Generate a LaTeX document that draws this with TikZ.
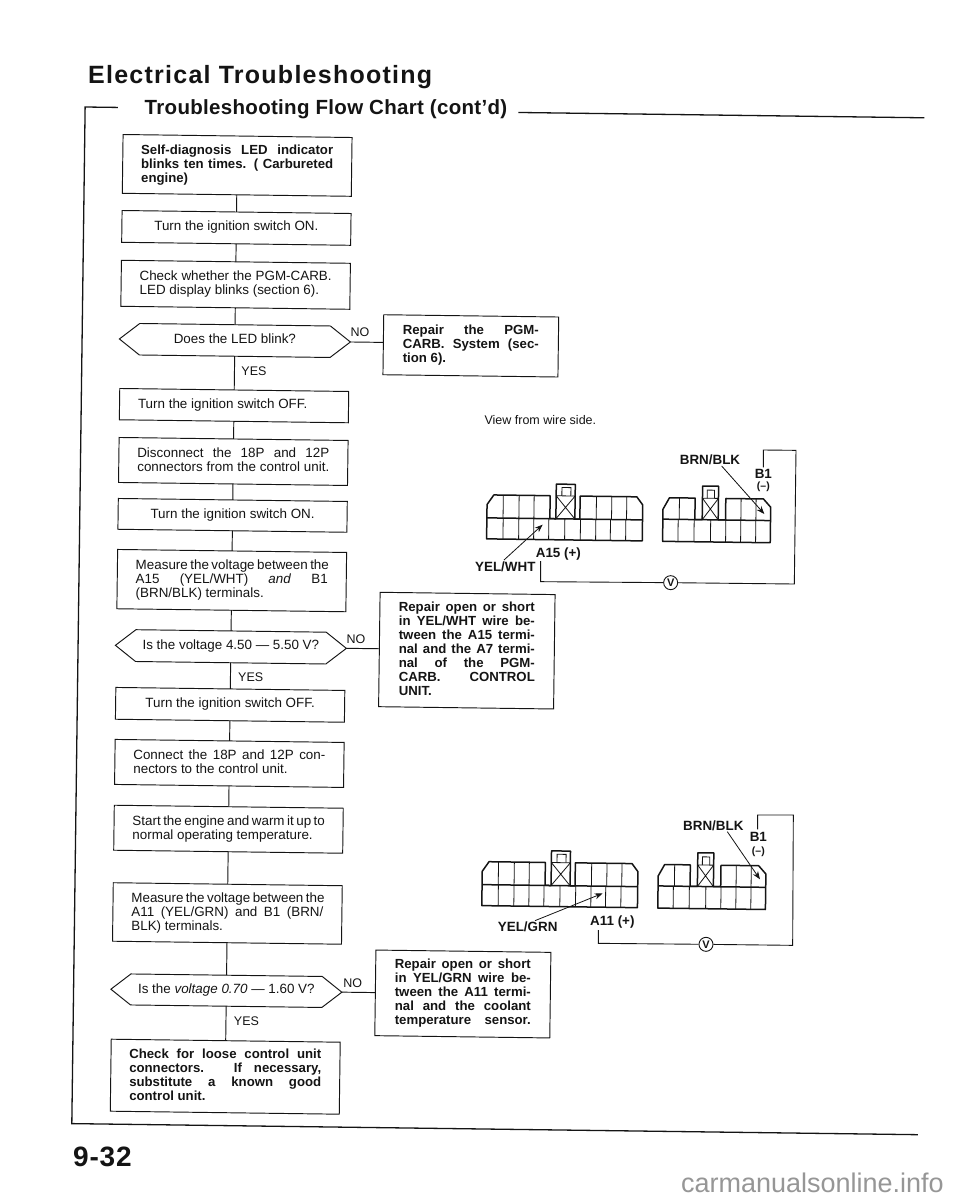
\documentclass[tikz,border=0pt]{standalone}
\usepackage{fontspec}
\setmainfont{Liberation Sans}
\usetikzlibrary{arrows.meta,shapes.symbols,calc}
\newlength{\jw}\setlength{\jw}{192pt}
\newlength{\rw}\setlength{\rw}{136pt}
\newcommand{\jl}[1]{\makebox[\jw][s]{#1}}
\newcommand{\lnl}[1]{\makebox[\jw][l]{#1}}
\newcommand{\jrep}[1]{\makebox[\rw][s]{#1}}
\newcommand{\lrep}[1]{\makebox[\rw][l]{#1}}
% sets the text level inside a node of the slightly tilted page
\newcommand{\ut}[1]{\rotatebox[origin=c]{0.75}{\begin{tabular}{@{}l@{}}#1\end{tabular}}}
\definecolor{ink}{gray}{0.08}
\newcommand{\connectorshapes}{%
  % left connector
  \draw[conn] (354,322) -- (354,219) -- (374,190) -- (543,190) -- (543,259) -- (561,259) -- (561,155) -- (618,155) -- (618,259) -- (633,259) -- (633,190) -- (803,190) -- (821,214) -- (821,322) -- cycle;
  \draw[conn] (354,259) -- (821,259);
  \foreach \u in {402.5,450,495,682,728,773} {\draw[thin2] (\u,190) -- (\u,259);}
  \foreach \u in {403,450,495,540,588,635,681,725,771} {\draw[thin2] (\u,259) -- (\u,322);}
  \draw[thin2] (578,190) -- (578,165) -- (605,165) -- (605,190);
  \draw[thin2] (561,190) -- (618,190) (561,190) -- (618,259) (618,190) -- (561,259);
  % right connector
  \draw[conn] (882,322.5) -- (882,226) -- (901,191.5) -- (978,191.5) -- (978,256) -- (1000,256) -- (1000,155) -- (1048,155) -- (1048,256) -- (1070,256) -- (1070,191.5) -- (1183,191.5) -- (1205,216) -- (1205,322.5) -- cycle;
  \draw[conn] (882,256) -- (1205,256);
  \foreach \u in {931,1116,1161} {\draw[thin2] (\u,191.5) -- (\u,256);}
  \foreach \u in {928,976,1025.5,1071,1116,1161} {\draw[thin2] (\u,256) -- (\u,322.5);}
  \draw[thin2] (1014,191.5) -- (1014,167) -- (1036,167) -- (1036,191.5);
  \draw[thin2] (1000,191.5) -- (1048,191.5) (1000,191.5) -- (1048,256) (1048,191.5) -- (1000,256);
}
\tikzset{
  boxn/.style={draw=ink,text=ink,line width=0.95pt,minimum width=229pt,inner sep=0pt,outer sep=0pt,align=left,font=\fontsize{13.4}{14}\selectfont},
  boldn/.style={boxn,font=\fontsize{13.2}{14}\selectfont\bfseries},
  repn/.style={boldn,minimum width=175pt},
  dec/.style={signal,signal to=west and east,signal pointer angle=76,draw=ink,text=ink,line width=0.95pt,minimum width=231pt,inner sep=0pt,outer sep=0pt,font=\fontsize{13.4}{14}\selectfont},
  flow/.style={draw=ink,line width=0.95pt},
  small/.style={text=ink,inner sep=0pt,rotate=0.75,font=\fontsize{12.5}{14}\selectfont},
  conn/.style={draw=ink,line width=1.5pt,line join=round},
  thin2/.style={draw=ink,line width=0.8pt},
  wire/.style={draw=ink,line width=0.9pt},
  lbl/.style={text=ink,inner sep=0pt,font=\fontsize{13.4}{14}\selectfont\bfseries},
  lbls/.style={lbl,font=\fontsize{10.5}{12}\selectfont\bfseries},
  meter/.style={circle,draw=ink,line width=0.9pt,text=ink,minimum size=14pt,inner sep=0pt,font=\fontsize{11}{11}\selectfont\bfseries},
  ptr/.style={draw=ink,line width=0.8pt,-{Stealth[length=8pt,width=6pt]}},
  frameline/.style={draw=ink,line width=1.3pt}
}
\begin{document}
\begin{tikzpicture}[x=1pt,y=-1pt]
\useasboundingbox (0,0) rectangle (960,1200);
\fill[white] (0,0) rectangle (960,1200);
% headings
\node[anchor=base west,inner sep=0,text=ink,font=\fontsize{25}{28}\selectfont\bfseries\addfontfeature{LetterSpace=5}] (title) at (88,83.5) {Electrical Troubleshooting};
\node[anchor=base west,inner sep=0,text=ink,font=\fontsize{20.5}{23}\selectfont\bfseries\addfontfeature{LetterSpace=1.5}] (sub) at (144.5,114) {Troubleshooting Flow Chart (cont'd)};
\node[anchor=base west,inner sep=0,text=ink,font=\fontsize{28}{30}\selectfont\bfseries\addfontfeature{LetterSpace=3}] (page) at (73,1166) {9-32};
\begin{scope}[rotate around={-0.75:(480,600)},transform shape]
% frame
\coordinate (f1) at (111.5,112.2); \coordinate (f2) at (78.7,112.2); \coordinate (f3) at (78.7,1129); \coordinate (f4) at (925,1129);
\coordinate (f5) at (512,112); \coordinate (f6) at (918,112);
\draw[frameline] (f1) -- (f2) -- (f3) -- (f4);
\draw[frameline] (f5) -- (f6);
% boxes
\node[boldn,minimum height=58.8pt] (b1) at (231.5,168.6) {\ut{\jl{Self-diagnosis LED indicator}\\\jl{blinks ten times. ( Carbureted}\\\lnl{engine)}}};
\node[boxn,minimum height=31.8pt] (b2) at (231.5,231.1) {\ut{Turn the ignition switch ON.}};
\node[boxn,minimum height=46pt] (b3) at (231.5,288) {\ut{\jl{Check whether the PGM-CARB.}\\\lnl{LED display blinks (section 6).}}};
\node[dec,minimum height=31.5pt] (d1) at (231.5,343.7) {\ut{Does the LED blink?}};
\node[repn,minimum height=60pt] (r1) at (467.5,346) {\ut{\jrep{Repair the PGM-}\\\jrep{CARB. System (sec-}\\\lrep{tion 6).}}};
\node[boxn,minimum height=31.3pt] (b4) at (231.5,408.85) {\ut{\lnl{Turn the ignition switch OFF.}}};
\node[boxn,minimum height=45pt] (b5) at (231.5,464.7) {\ut{\jl{Disconnect the 18P and 12P}\\\jl{connectors from the control unit.}}};
\node[boxn,minimum height=30.8pt] (b6) at (231.5,518.6) {\ut{Turn the ignition switch ON.}};
\node[boxn,minimum height=59.3pt] (b7) at (231.5,583.85) {\ut{\jl{Measure the voltage between the}\\\jl{A15 (YEL/WHT) \textit{and} B1}\\\lnl{(BRN/BLK) terminals.}}};
\node[dec,minimum height=31.8pt] (d2) at (231.5,650.1) {\ut{Is the voltage 4.50 — 5.50 V?}};
\node[boldn,repn,minimum height=114.4pt] (r2) at (467.5,650.8) {\ut{\jrep{Repair open or short}\\\jrep{in YEL/WHT wire be-}\\\jrep{tween the A15 termi-}\\\jrep{nal and the A7 termi-}\\\jrep{nal of the PGM-}\\\jrep{CARB. CONTROL}\\\lrep{UNIT.}}};
\node[boxn,minimum height=31.8pt] (b8) at (231.5,708.1) {\ut{Turn the ignition switch OFF.}};
\node[boxn,minimum height=45pt] (b9) at (231.5,766.7) {\ut{\jl{Connect the 18P and 12P con-}\\\lnl{nectors to the control unit.}}};
\node[boxn,minimum height=45pt] (b10) at (231.5,832.5) {\ut{\jl{Start the engine and warm it up to}\\\lnl{normal operating temperature.}}};
\node[boxn,minimum height=58.5pt] (b11) at (231.5,916.75) {\ut{\jl{Measure the voltage between the}\\\jl{A11 (YEL/GRN) and B1 (BRN/}\\\lnl{BLK) terminals.}}};
\node[dec,minimum height=31pt] (d3) at (231.5,994) {\ut{Is the \textit{voltage 0.70} — 1.60 V?}};
\node[boldn,repn,minimum height=85.6pt] (r3) at (468,994.2) {\ut{\jrep{Repair open or short}\\\jrep{in YEL/GRN wire be-}\\\jrep{tween the A11 termi-}\\\jrep{nal and the coolant}\\\jrep{temperature sensor.}}};
\node[boldn,minimum height=72pt] (b12) at (231.5,1080) {\ut{\jl{Check for loose control unit}\\\jl{connectors. If necessary,}\\\jl{substitute a known good}\\\lnl{control unit.}}};
% flow connectors
\draw[flow] (b1) -- (b2);
\draw[flow] (b2) -- (b3);
\draw[flow] (b3) -- (d1);
\draw[flow] (d1) -- (b4);
\draw[flow] (b4) -- (b5);
\draw[flow] (b5) -- (b6);
\draw[flow] (b6) -- (b7);
\draw[flow] (b7) -- (d2);
\draw[flow] (d2) -- (b8);
\draw[flow] (b8) -- (b9);
\draw[flow] (b9) -- (b10);
\draw[flow] (b10) -- (b11);
\draw[flow] (b11) -- (d3);
\draw[flow] (d3) -- (b12);
\draw[flow] (d1.east) -- (d1.east -| r1.west);
\draw[flow] (d2.east) -- (d2.east -| r2.west);
\draw[flow] (d3.east) -- (d3.east -| r3.west);
% NO / YES
\node[small] (n1) at (356.5,333.6) {NO};
\node[small] (n2) at (356.5,640.6) {NO};
\node[small] (n3) at (357.7,985) {NO};
\node[small] (y1) at (251,374) {YES};
\node[small] (y2) at (251.7,680) {YES};
\node[small] (y3) at (252,1024) {YES};
\node[small,anchor=west] (view) at (482,420) {View from wire side.};
% connector drawings
\begin{scope}[shift={(367.8,431.44)},x=0.33333pt,y=-0.33333pt]
\connectorshapes
\end{scope}
\begin{scope}[shift={(367.8,798.24)},x=0.33333pt,y=-0.33333pt]
\connectorshapes
\end{scope}
\end{scope}
% upper connector wiring
\begin{scope}[shift={(370,430)},x=0.33333pt,y=-0.33333pt]
\node[lbl] (bb1) at (1020,88) {BRN/BLK};
\node[lbl] (b1a) at (1180,133) {B1};
\node[lbls] (b1m) at (1180,170) {(–)};
\node[lbl,anchor=west] (a15) at (497,372) {A15 (+)};
\node[lbl,anchor=east] (yw) at (497,409) {YEL/WHT};
\node[meter] (v1) at (902,458) {V};
\coordinate (p1a) at (1055,108); \coordinate (p1b) at (1183,252);
\coordinate (p2a) at (402,390); \coordinate (p2b) at (518,284);
\draw[ptr] (p1a) -- (p1b);
\draw[ptr] (p2a) -- (p2b);
\coordinate (w1) at (1180,112); \coordinate (w2) at (1180,60); \coordinate (w3) at (1278,61); \coordinate (w4) at (1273,462);
\coordinate (w5) at (512,455); \coordinate (w6) at (512,393);
\draw[wire] (w1) -- (w2) -- (w3) -- (w4) -- (v1);
\draw[wire] (v1) -- (w5) -- (w6);
\end{scope}
% lower connector wiring
\begin{scope}[shift={(370,800)},x=0.33333pt,y=-0.33333pt]
\node[lbl] (bb2) at (1030,78) {BRN/BLK};
\node[lbl] (b1c) at (1165,110) {B1};
\node[lbls] (b1d) at (1165,155) {(–)};
\node[lbl,anchor=west] (a11) at (660,367) {A11 (+)};
\node[lbl] (yg) at (473,380) {YEL/GRN};
\node[meter] (v2) at (1008,433) {V};
\coordinate (q1a) at (1072,95); \coordinate (q1b) at (1170,238);
\coordinate (q2a) at (495,362); \coordinate (q2b) at (698,280);
\draw[ptr] (q1a) -- (q1b);
\draw[ptr] (q2a) -- (q2b);
\coordinate (x1) at (1163,88); \coordinate (x2) at (1163,45); \coordinate (x3) at (1270,45); \coordinate (x4) at (1268,436);
\coordinate (x5) at (685,430); \coordinate (x6) at (685,390);
\draw[wire] (x1) -- (x2) -- (x3) -- (x4) -- (v2);
\draw[wire] (v2) -- (x5) -- (x6);
\end{scope}
% watermark
\node[anchor=base east,inner sep=0,text={rgb,255:red,150;green,150;blue,150},font=\fontsize{27}{30}\selectfont] (wm) at (944,1192) {carmanualsonline.info};
\end{tikzpicture}
\end{document}
